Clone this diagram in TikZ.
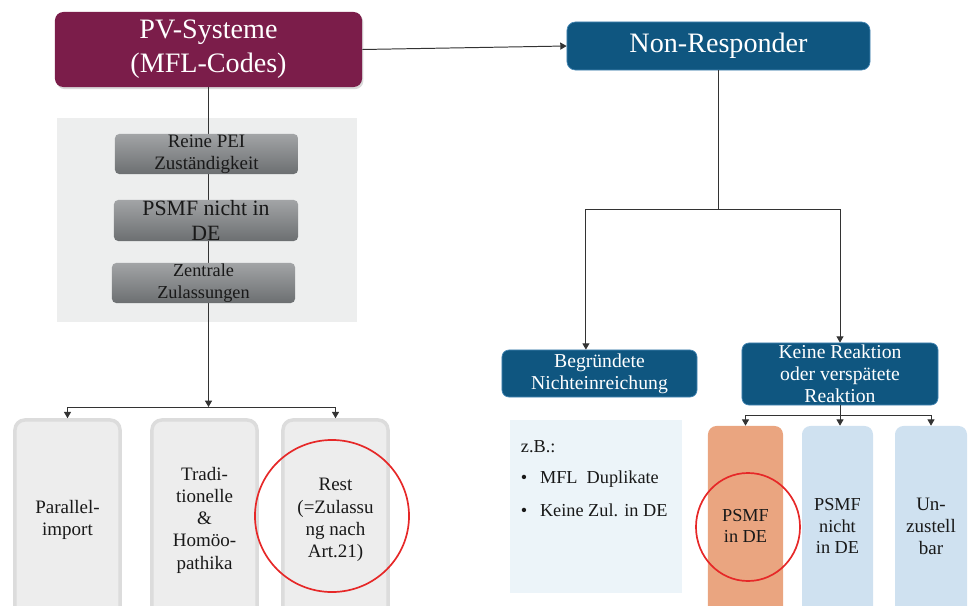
\documentclass[tikz,border=0pt]{standalone}
\usepackage{fontspec}
\setmainfont{Liberation Serif}
\usetikzlibrary{arrows.meta,shadows}
\definecolor{pvred}{RGB}{123,29,74}
\definecolor{nrblue}{RGB}{15,86,128}
\definecolor{nredge}{RGB}{70,135,180}
\definecolor{panelgrey}{RGB}{237,238,238}
\definecolor{greytop}{RGB}{162,164,166}
\definecolor{greybot}{RGB}{108,111,113}
\definecolor{pillarfill}{RGB}{237,237,237}
\definecolor{pillarline}{RGB}{220,220,220}
\definecolor{zbfill}{RGB}{236,244,249}
\definecolor{orangefill}{RGB}{234,165,128}
\definecolor{lightblue}{RGB}{207,225,240}
\definecolor{ringred}{RGB}{230,40,40}

\begin{document}
\begin{tikzpicture}[x=0.025cm,y=-0.025cm,
    link/.style={draw=black!80, line width=0.7pt},
    tip/.style={link, -{Triangle[length=4.5pt,width=5pt]}},
    headbox/.style={rounded corners=6pt, text=white, align=center},
    greybox/.style={rounded corners=3pt, top color=greytop, bottom color=greybot, text=black!90, align=center, minimum width=4.575cm, minimum height=1cm, inner sep=0pt},
    pillar/.style={rounded corners=7pt, fill=pillarfill, draw=pillarline, line width=2.5pt, align=center, minimum width=2.625cm, minimum height=5cm, text=black!90, font=\fontsize{13.5}{15.8}\selectfont},
    slim/.style={rounded corners=6pt, align=center, minimum height=5cm, text=black!90, font=\fontsize{13}{15.5}\selectfont},
    bluebox/.style={rounded corners=5pt, fill=nrblue, draw=nredge, line width=0.5pt, text=white, align=center, inner sep=0pt, font=\fontsize{14}{15.8}\selectfont},
    ring/.style={draw=ringred, line width=1.2pt}]
  \useasboundingbox (0,0) rectangle (973,605);
  \node[headbox, fill=pvred, minimum width=7.675cm, minimum height=1.875cm, inner sep=0pt, font=\fontsize{20}{24}\selectfont, drop shadow={shadow xshift=1pt, shadow yshift=-1.5pt, opacity=0.3}] (pv) at (208.5,49.5) {PV-Systeme\\(MFL-Codes)};
  \node[headbox, fill=nrblue, draw=nredge, line width=0.5pt, minimum width=7.575cm, minimum height=1.2cm, inner sep=0pt, font=\fontsize{20}{24}\selectfont] (nonresp) at (718.5,46) {Non-Responder};
  \draw[tip] (pv.east) -- (nonresp.west);
  \node[fill=panelgrey, minimum width=7.5cm, minimum height=5.1cm] (greypanel) at (207,220) {};
  \coordinate (lsplit) at (208.5,407);
  \draw[tip] (pv.south) -- (lsplit);
  \node[greybox, font=\fontsize{13.5}{15.6}\selectfont] (pei) at (206.5,154) {Reine PEI\\Zuständigkeit};
  \node[greybox, minimum width=4.6cm, minimum height=1.025cm, font=\fontsize{15.5}{17.8}\selectfont] (psmfnot) at (206,220.5) {PSMF nicht in\\DE};
  \node[greybox, font=\fontsize{13}{15.6}\selectfont] (zentral) at (203.5,283) {Zentrale\\Zulassungen};
  \node[pillar] (parallel) at (67.5,520) {Parallel-\\import};
  \node[pillar] (tradi) at (204.5,520) {Tradi-\\tionelle\\\&\\Homöo-\\pathika};
  \node[pillar] (rest) at (335.5,520) {Rest\\(=Zulassu\\ng nach\\Art.21)};
  \draw[tip] (lsplit) -| (parallel.north);
  \draw[tip] (lsplit) -| (rest.north);
  \draw[ring] (332,516) ellipse [x radius=1.925cm, y radius=1.9cm];
  \coordinate (rsplit) at (718.5,209);
  \draw[link] (nonresp.south) -- (rsplit);
  \node[bluebox, minimum width=4.875cm, minimum height=1.175cm] (begr) at (599.5,373.5) {Begründete\\Nichteinreichung};
  \node[bluebox, minimum width=4.9cm, minimum height=1.55cm] (keine) at (840,374) {Keine Reaktion\\oder verspätete\\Reaktion};
  \draw[tip] (rsplit) -| ([xshift=-0.34cm]begr.north);
  \draw[tip] (rsplit) -| (keine.north);
  \node[fill=zbfill, minimum width=4.3cm, minimum height=4.325cm] (zbpanel) at (596,506.5) {};
  \node[anchor=base west, text=black!90, font=\fontsize{13}{15.6}\selectfont] (zbhead) at (516,452) {z.B.:};
  \node[anchor=base west, text=black!90, font=\fontsize{13}{15.6}\selectfont] (zbone) at (516,483) {\textbullet\hspace{9pt}MFL\ \ Duplikate};
  \node[anchor=base west, text=black!90, font=\fontsize{13}{15.6}\selectfont] (zbtwo) at (516,516) {\textbullet\hspace{9pt}Keine Zul. in DE};
  \node[slim, fill=orangefill, minimum width=1.875cm] (psmfde) at (745.5,526) {PSMF\\in DE};
  \node[slim, fill=lightblue, minimum width=1.775cm] (psmfnd) at (837.5,526) {PSMF\\nicht\\in DE};
  \node[slim, fill=lightblue, minimum width=1.8cm, font=\fontsize{13.5}{15.6}\selectfont] (unzu) at (931,526) {Un-\\zustell\\bar};
  \coordinate (ksplit) at (840,415);
  \draw[link] (keine.south) -- (ksplit);
  \draw[tip] (ksplit) -| (psmfde.north);
  \draw[tip] (ksplit) -- (ksplit |- psmfnd.north);
  \draw[tip] (ksplit) -| (unzu.north);
  \draw[ring] (748,527) ellipse [x radius=1.3cm, y radius=1.35cm];
\end{tikzpicture}
\end{document}
